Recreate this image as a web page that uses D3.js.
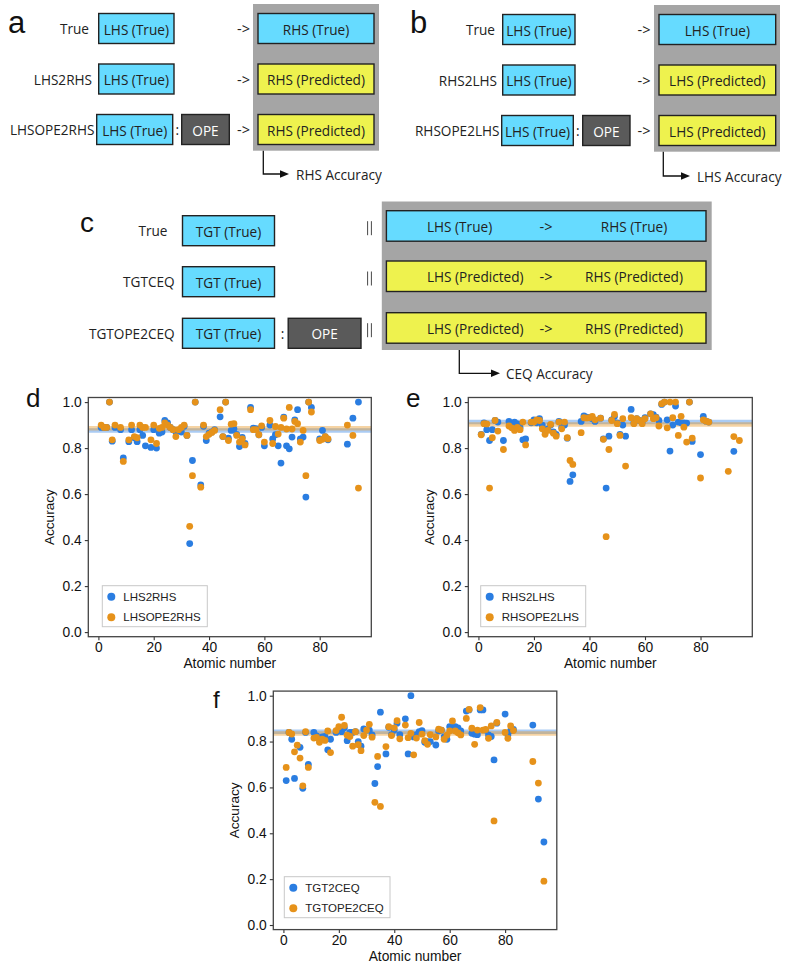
<!DOCTYPE html>
<html><head><meta charset="utf-8">
<script src="https://cdn.jsdelivr.net/npm/d3@7"></script>
<style>body{margin:0;background:#fff} svg{display:block}</style>
</head><body>
<svg id="fig" width="785" height="964"></svg>
<script>
// ---------------- DATA ----------------
const xTicks = [0, 20, 40, 60, 80];
const yTicks = [0.0, 0.2, 0.4, 0.6, 0.8, 1.0];

// Panel d
const atomicD = [1,2,3,4,5,6,8,9,11,12,13,14,15,16,17,19,20,21,22,23,24,25,26,27,28,29,30,31,32,33,34,35,37,38,39,40,41,42,44,45,46,47,48,49,50,51,52,53,55,56,57,58,59,60,62,63,64,65,66,67,68,69,70,71,72,73,74,75,76,77,80,81,82,83,90,92,94];
const lhs2rhs = [0.89,0.89,0.89,1.0,0.83,0.89,0.88,0.757,0.828,0.88,0.845,0.828,0.88,0.855,0.81,0.803,0.88,0.80,0.865,0.87,0.92,0.91,0.89,0.88,0.87,0.875,0.87,0.895,0.855,0.385,0.746,1.0,0.64,0.895,0.833,0.865,0.87,0.88,0.936,0.85,1.0,0.843,0.877,0.884,0.86,0.807,0.846,0.82,0.977,0.887,0.885,0.858,0.89,0.81,0.90,0.84,0.858,0.81,0.735,0.935,0.81,0.797,0.848,0.923,0.967,0.84,0.848,0.587,1.0,0.977,0.84,0.877,0.85,0.836,0.817,0.93,1.0];
const lhsope2rhs = [0.90,0.89,0.89,1.0,0.836,0.90,0.89,0.742,0.836,0.90,0.85,0.845,0.90,0.89,0.89,0.836,0.90,0.82,0.886,0.89,0.91,0.90,0.89,0.88,0.85,0.88,0.89,0.90,0.855,0.46,0.68,1.0,0.63,0.90,0.85,0.86,0.868,0.877,0.967,0.85,1.0,0.833,0.904,0.906,0.855,0.826,0.84,0.814,0.967,0.88,0.88,0.858,0.897,0.826,0.92,0.82,0.894,0.861,0.89,0.93,0.883,0.977,0.883,0.916,0.906,0.826,0.877,0.68,1.0,0.957,0.833,0.838,0.85,0.84,0.90,0.855,0.626];
const meanD = [0.876, 0.886];

// Panel e
const atomicE = [1,2,3,4,5,6,7,9,11,12,13,14,15,16,17,19,20,21,22,23,24,25,26,27,28,29,30,31,32,33,34,37,38,39,40,41,42,44,45,46,47,48,49,50,51,52,53,55,56,57,58,59,60,62,63,64,65,66,67,68,69,70,71,72,73,74,75,76,77,80,81,82,83,90,92,94];
const rhs2lhs = [0.86,0.91,0.88,0.833,0.88,0.92,0.913,0.833,0.916,0.90,0.913,0.905,0.89,0.836,0.84,0.91,0.923,0.91,0.928,0.90,0.874,0.884,0.90,0.87,0.86,0.916,0.89,0.90,0.843,0.655,0.684,0.916,0.94,0.935,0.932,0.928,0.916,0.93,0.84,0.626,0.852,0.923,0.937,0.91,0.86,0.90,0.852,0.968,0.91,0.928,0.92,0.913,0.932,0.949,0.945,0.935,0.92,0.99,1.0,0.923,0.787,0.90,0.983,0.913,0.91,0.91,0.909,1.0,0.829,0.772,0.938,0.917,0.913,null,0.786,null];
const rhsope2lhs = [0.858,0.906,0.905,0.626,0.845,0.92,0.874,0.794,0.896,0.888,0.877,0.89,0.88,0.913,0.814,0.913,0.913,0.923,0.92,0.884,0.86,0.877,0.903,0.865,0.852,0.913,0.884,0.913,0.845,0.746,0.729,0.867,0.932,0.93,0.932,0.938,0.923,0.93,0.838,0.415,0.794,0.92,0.946,0.906,0.855,0.928,0.722,0.932,0.906,0.928,0.92,0.906,0.928,0.949,0.928,0.932,0.896,0.993,1.0,0.888,1.0,0.932,1.0,0.855,0.938,0.891,0.826,1.0,0.843,0.67,0.923,0.917,0.913,0.699,0.85,0.833];
const meanE = [0.913, 0.903];

// Panel f
const atomicF = [1,2,3,4,5,6,7,8,9,11,12,13,14,15,16,17,19,20,21,22,23,24,25,26,27,28,29,30,31,32,33,34,35,37,38,39,40,41,42,44,45,46,47,48,49,50,51,52,53,55,56,57,58,59,60,61,62,63,64,66,67,68,69,70,71,72,73,74,75,76,77,80,81,82,83,90,92,94];
const tgt2ceq = [0.63,0.84,0.81,0.639,null,0.775,0.596,0.84,0.70,0.84,0.825,0.81,0.82,0.822,0.764,0.81,0.84,0.855,0.843,0.86,0.804,0.84,0.84,0.843,0.80,0.78,0.855,0.85,0.85,0.829,0.617,0.691,0.928,0.746,0.862,0.83,0.85,0.88,0.83,0.899,0.746,1.0,0.82,0.83,0.843,0.848,0.797,0.80,0.80,0.785,0.846,0.85,0.82,0.81,0.865,0.862,0.865,0.86,0.846,0.933,0.938,0.836,0.832,0.83,0.938,0.938,0.85,0.829,0.822,0.72,0.88,0.92,0.829,0.848,0.853,0.872,0.549,0.362];
const tgtope2ceq = [0.687,0.84,0.833,0.755,0.784,0.728,0.607,0.843,0.687,0.815,0.818,0.797,0.81,0.805,0.846,0.752,0.848,0.865,0.906,0.87,0.828,0.822,0.78,0.843,0.786,0.76,0.826,0.85,0.875,0.819,0.535,0.735,0.517,0.778,0.865,0.826,0.86,0.891,0.812,0.872,0.817,0.836,0.742,0.815,0.883,0.832,0.804,0.788,0.83,0.82,0.854,0.85,0.81,0.828,0.846,0.89,0.846,0.838,0.829,0.901,0.94,0.858,0.788,0.85,0.948,0.85,0.853,0.814,0.868,0.454,0.883,0.84,0.814,0.868,0.848,0.713,0.619,0.191];
const meanF = [0.843, 0.835];

// ---------------- STYLE ----------------
const BLUE = "#2a7de1", ORANGE = "#e6921a";
const CYAN = "#66dbff", YELLOW = "#eef24e", GRAY = "#a5a5a5", DARK = "#5a5a5a";
const DFONT = "'Open Sans', 'Noto Sans', sans-serif";
const PFONT = "'Liberation Sans', Arial, sans-serif";
const DSIZE = 13.6;

const svg = d3.select("#fig");

// ---------------- DIAGRAMS ----------------
function txt(g, x, y, s, opt = {}) {
  return g.append("text").attr("x", x).attr("y", y).text(s)
    .attr("font-family", opt.font || DFONT).attr("font-size", opt.size || DSIZE)
    .attr("fill", opt.fill || "#222").attr("text-anchor", opt.anchor || "start")
    .attr("dominant-baseline", opt.base || "central");
}
function box(g, x, y, w, h, fill, label, tcol, anchorX) {
  g.append("rect").attr("x", x).attr("y", y).attr("width", w).attr("height", h)
    .attr("fill", fill).attr("stroke", "#222").attr("stroke-width", 1.4);
  if (label) txt(g, anchorX == null ? x + w / 2 : anchorX, y + h / 2 + 0.5, label,
    { anchor: anchorX == null ? "middle" : "start", fill: tcol || "#222" });
}
function arrowTo(g, x0, y0, y1, x1) {
  g.append("path").attr("d", `M${x0},${y0}V${y1}H${x1 - 7}`).attr("fill", "none")
    .attr("stroke", "#111").attr("stroke-width", 1.3);
  g.append("path").attr("d", `M${x1 - 9},${y1 - 3.8}L${x1},${y1}L${x1 - 9},${y1 + 3.8}Z`).attr("fill", "#111");
}
function dash(g, cx, cy) { // the "->" sign
  txt(g, cx, cy, "->", { anchor: "middle", size: 14.5 });
}
function letter(x, y, s, size) {
  svg.append("text").attr("x", x).attr("y", y).text(s).attr("font-family", PFONT)
    .attr("font-size", size).attr("fill", "#111");
}

// panel a / b
function panelAB(cfg) {
  const g = svg.append("g");
  g.append("rect").attr("x", cfg.gx).attr("y", cfg.gy).attr("width", cfg.gw).attr("height", cfg.gh).attr("fill", GRAY);
  cfg.rows.forEach((r, i) => {
    const cy = r.y + 15;
    txt(g, r.labelEnd, cy, r.label, { anchor: "end" });
    box(g, r.bx, r.y, r.bw, 30, CYAN, cfg.leftText);
    if (r.ope) {
      txt(g, r.bx + r.bw + 4.5, cy, ":", { anchor: "middle" });
      box(g, r.opeX, r.y, r.opeW, 30, DARK, "OPE", "#fff");
    }
    dash(g, cfg.arrowX, cy);
    box(g, cfg.rx, r.y, cfg.rw, 30, i === 0 ? CYAN : YELLOW, cfg.rightText[i]);
  });
  arrowTo(g, cfg.ax, cfg.gy + cfg.gh, cfg.ay, cfg.atip);
  txt(g, cfg.atip + 7, cfg.ay, cfg.accText, {});
}
letter(8, 33, "a", 31);
panelAB({
  gx: 253, gy: 4, gw: 126, gh: 146.7,
  leftText: "LHS (True)", rightText: ["RHS (True)", "RHS (Predicted)", "RHS (Predicted)"],
  rows: [
    { y: 13.5, label: "True", labelEnd: 89, bx: 98.7, bw: 75.3 },
    { y: 64, label: "LHS2RHS", labelEnd: 92, bx: 98.7, bw: 75.3 },
    { y: 114.5, label: "LHSOPE2RHS", labelEnd: 94.5, bx: 96.7, bw: 76, ope: true, opeX: 181.7, opeW: 47.6 }
  ],
  arrowX: 243.5, rx: 258, rw: 116,
  ax: 263.3, ay: 174, atip: 289, accText: "RHS Accuracy"
});
letter(410, 33, "b", 31);
panelAB({
  gx: 654, gy: 5, gw: 126, gh: 146.7,
  leftText: "LHS (True)", rightText: ["LHS (True)", "LHS (Predicted)", "LHS (Predicted)"],
  rows: [
    { y: 14.5, label: "True", labelEnd: 495, bx: 502.7, bw: 72.3 },
    { y: 65, label: "RHS2LHS", labelEnd: 497, bx: 502.7, bw: 72.3 },
    { y: 115.5, label: "RHSOPE2LHS", labelEnd: 499.5, bx: 501.7, bw: 71.6, ope: true, opeX: 582.7, opeW: 47.3 }
  ],
  arrowX: 644, rx: 659, rw: 116.7,
  ax: 663.3, ay: 176, atip: 690, accText: "LHS Accuracy"
});

// panel c
letter(80, 232, "c", 28);
(function () {
  const g = svg.append("g");
  g.append("rect").attr("x", 381.8).attr("y", 201.5).attr("width", 329.9).attr("height", 148.5).attr("fill", GRAY);
  const rows = [
    { y: 215.7, ly: 210.7, label: "True", labelEnd: 167.5, lhs: "LHS (True)", rhs: "RHS (True)", fill: CYAN },
    { y: 266.7, ly: 261, label: "TGTCEQ", labelEnd: 174.6, lhs: "LHS (Predicted)", rhs: "RHS (Predicted)", fill: YELLOW },
    { y: 318.3, ly: 312.7, label: "TGTOPE2CEQ", labelEnd: 174.6, lhs: "LHS (Predicted)", rhs: "RHS (Predicted)", fill: YELLOW, ope: true }
  ];
  rows.forEach(r => {
    txt(g, r.labelEnd, r.y + 15, r.label, { anchor: "end" });
    box(g, 182.5, r.y, 92, 30, CYAN, "TGT (True)");
    if (r.ope) {
      txt(g, 282.5, r.y + 15, ":", { anchor: "middle" });
      box(g, 288.2, r.y, 72.8, 30, DARK, "OPE", "#fff");
    }
    // "||" sign
    [367.6, 371.4].forEach(xx => g.append("line").attr("x1", xx).attr("x2", xx)
      .attr("y1", r.ly + 10.5).attr("y2", r.ly + 24.5).attr("stroke", "#333").attr("stroke-width", 0.9));
    box(g, 386.4, r.ly, 319.6, 30.5, r.fill, null);
    txt(g, 427, r.ly + 15.5, r.lhs, {});
    dash(g, 546, r.ly + 15.5);
    txt(g, 634, r.ly + 15.5, r.rhs, { anchor: "middle" });
  });
  arrowTo(g, 459.3, 350, 373.3, 500);
  txt(g, 506, 373.3, "CEQ Accuracy", {});
})();

// ---------------- SCATTER PANELS ----------------
function scatter(cfg) {
  const g = svg.append("g");
  const x = d3.scaleLinear().domain([-3.65, 98.65]).range([cfg.left, cfg.left + cfg.w]);
  const y = d3.scaleLinear().domain([-0.02, 1.02]).range([cfg.top + cfg.h, cfg.top]);
  const bottom = cfg.top + cfg.h;

  // mean lines
  [[cfg.mean[0], BLUE], [cfg.mean[1], ORANGE]].forEach(([m, c]) => {
    g.append("line").attr("x1", cfg.left).attr("x2", cfg.left + cfg.w)
      .attr("y1", y(m)).attr("y2", y(m)).attr("stroke", c).attr("stroke-width", 4.5).attr("stroke-opacity", 0.4);
  });
  // points
  const pts = (vals, c) => g.append("g").selectAll("circle")
    .data(cfg.xs.map((a, i) => [a, vals[i]]).filter(d => d[1] != null))
    .join("circle").attr("cx", d => x(d[0])).attr("cy", d => y(d[1])).attr("r", 3.4).attr("fill", c);
  pts(cfg.b, BLUE);
  pts(cfg.o, ORANGE);

  // axes
  const ya = g.append("g").attr("transform", `translate(${cfg.left},0)`)
    .call(d3.axisLeft(y).tickValues(yTicks).tickFormat(d3.format(".1f")).tickSize(3.5).tickPadding(3));
  const xa = g.append("g").attr("transform", `translate(0,${bottom})`)
    .call(d3.axisBottom(x).tickValues(xTicks).tickFormat(d3.format("d")).tickSize(3.5).tickPadding(2));
  [ya, xa].forEach(a => {
    a.select(".domain").remove();
    a.selectAll("line").attr("stroke", "#333").attr("stroke-width", 1.1);
    a.selectAll("text").attr("font-family", PFONT).attr("font-size", 13.8).attr("fill", "#111");
  });
  g.append("rect").attr("x", cfg.left).attr("y", cfg.top).attr("width", cfg.w).attr("height", cfg.h)
    .attr("fill", "none").attr("stroke", "#444").attr("stroke-width", 1.3);

  g.append("text").attr("x", cfg.left + cfg.w / 2).attr("y", bottom + 31).attr("text-anchor", "middle")
    .attr("font-family", PFONT).attr("font-size", 13.8).attr("fill", "#111").text("Atomic number");
  g.append("text").attr("transform", `translate(${cfg.left - 34},${cfg.top + cfg.h / 2}) rotate(-90)`)
    .attr("text-anchor", "middle").attr("font-family", PFONT).attr("font-size", 13.6).attr("fill", "#111").text("Accuracy");

  // legend
  const L = cfg.legend;
  g.append("rect").attr("x", L.x).attr("y", L.y).attr("width", L.w).attr("height", 41)
    .attr("fill", "#fff").attr("stroke", "#c8c8c8").attr("stroke-width", 1);
  cfg.names.forEach((n, i) => {
    const cy = L.y + 11 + i * 20.6;
    g.append("circle").attr("cx", L.x + 9).attr("cy", cy).attr("r", 4).attr("fill", i ? ORANGE : BLUE);
    g.append("text").attr("x", L.x + 21).attr("y", cy).attr("dominant-baseline", "central")
      .attr("font-family", PFONT).attr("font-size", 11.5).attr("fill", "#222").text(n);
  });
}

letter(26, 407, "d", 26);
scatter({ left: 88.3, top: 397.5, w: 283, h: 239.2, xs: atomicD, b: lhs2rhs, o: lhsope2rhs, mean: meanD,
  names: ["LHS2RHS", "LHSOPE2RHS"], legend: { x: 102.3, y: 585.7, w: 105 } });
letter(406, 407, "e", 26);
scatter({ left: 468.3, top: 397.5, w: 284, h: 239.2, xs: atomicE, b: rhs2lhs, o: rhsope2lhs, mean: meanE,
  names: ["RHS2LHS", "RHSOPE2LHS"], legend: { x: 480.7, y: 585.7, w: 105 } });
letter(213, 708, "f", 24);
scatter({ left: 273.3, top: 691.1, w: 283.5, h: 238.5, xs: atomicF, b: tgt2ceq, o: tgtope2ceq, mean: meanF,
  names: ["TGT2CEQ", "TGTOPE2CEQ"], legend: { x: 284.3, y: 876.7, w: 105.7 } });
</script>
</body></html>
